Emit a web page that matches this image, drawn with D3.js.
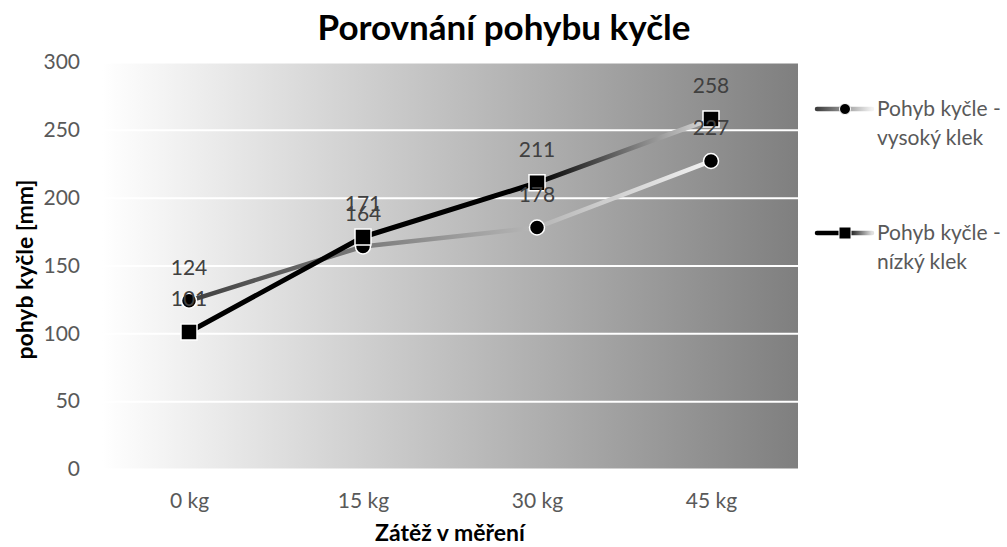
<!DOCTYPE html>
<html>
<head>
<meta charset="utf-8">
<script src="https://cdn.jsdelivr.net/npm/d3@7"></script>
<style>
  body { margin: 0; background: #fff; }
  svg { display: block; font-family: Lato, "Open Sans", sans-serif; }
</style>
</head>
<body>
<div id="chart"></div>
<script>
// ---- Data ----
const categories = ["0 kg", "15 kg", "30 kg", "45 kg"];
const seriesNames = ["Pohyb kyčle - vysoký klek", "Pohyb kyčle - nízký klek"];
const highKneel = [124, 164, 178, 227];
const lowKneel = [101, 171, 211, 258];
const yTicks = [0, 50, 100, 150, 200, 250, 300];

const width = 1007, height = 547;
const plot = { left: 102, right: 798, top: 62, bottom: 469 };

const svg = d3.select("#chart").append("svg")
    .attr("width", width)
    .attr("height", height);

const defs = svg.append("defs");

const xScale = d3.scalePoint()
    .domain(categories)
    .range([plot.left, plot.right])
    .padding(0.5);

const yScale = d3.scaleLinear()
    .domain([0, 300])
    .range([plot.bottom, plot.top]);

// ---- Gradients ----
function addGradient(id, x1, x2, stops) {
    const g = defs.append("linearGradient")
        .attr("id", id)
        .attr("gradientUnits", "userSpaceOnUse")
        .attr("x1", x1).attr("x2", x2)
        .attr("y1", 0).attr("y2", 0);
    g.selectAll("stop")
        .data(stops)
        .join("stop")
        .attr("offset", d => d[0])
        .attr("stop-color", d => d[1]);
}

const highStops = [[0, "#3f3f3f"], [1, "#f2f2f2"]];
const lowStops = [[0, "#000"], [0.67, "#000"], [1, "#dedede"]];

addGradient("bg", plot.left, plot.right, [[0, "#ffffff"], [1, "#7f7f7f"]]);
addGradient("lineHigh", xScale(categories[0]), xScale(categories[3]), highStops);
addGradient("lineLow", xScale(categories[0]), xScale(categories[3]), lowStops);
addGradient("legHigh", 817, 872, highStops);
addGradient("legLow", 817, 872, [[0, "#000"], [0.55, "#000"], [1, "#e0e0e0"]]);

// ---- Plot background ----
svg.append("rect")
    .attr("x", plot.left)
    .attr("y", plot.top)
    .attr("width", plot.right - plot.left)
    .attr("height", plot.bottom - plot.top)
    .attr("fill", "url(#bg)");

// ---- Gridlines ----
const grid = svg.append("g")
    .attr("transform", `translate(${plot.left},0)`)
    .call(d3.axisLeft(yScale).tickValues(yTicks).tickSize(-(plot.right - plot.left)).tickFormat(""));
grid.select(".domain").remove();
grid.selectAll("line").attr("stroke", "#fff").attr("stroke-width", 2);

// ---- Y axis ----
const yAxis = svg.append("g")
    .attr("transform", `translate(${plot.left},0)`)
    .call(d3.axisLeft(yScale).tickValues(yTicks).tickSize(0).tickPadding(22));
yAxis.select(".domain").remove();
yAxis.selectAll("text")
    .attr("font-family", "Lato, 'Open Sans', sans-serif")
    .attr("font-size", 21)
    .attr("fill", "#595959");

// ---- X axis ----
const xAxis = svg.append("g")
    .attr("transform", `translate(0,${plot.bottom})`)
    .call(d3.axisBottom(xScale).tickSize(0).tickPadding(24));
xAxis.select(".domain").remove();
xAxis.selectAll("text")
    .attr("font-family", "Lato, 'Open Sans', sans-serif")
    .attr("font-size", 21)
    .attr("fill", "#595959");

// ---- Series ----
const series = [
    { name: seriesNames[0], values: highKneel, stroke: "url(#lineHigh)", legend: "url(#legHigh)", shape: "circle", width: 4.5 },
    { name: seriesNames[1], values: lowKneel, stroke: "url(#lineLow)", legend: "url(#legLow)", shape: "square", width: 5 }
];

const line = d3.line()
    .x((d, i) => xScale(categories[i]))
    .y(d => yScale(d));

series.forEach(s => {
    const g = svg.append("g");
    g.append("path")
        .datum(s.values)
        .attr("d", line)
        .attr("fill", "none")
        .attr("stroke", s.stroke)
        .attr("stroke-width", s.width)
        .attr("stroke-linejoin", "round");

    if (s.shape === "circle") {
        g.selectAll("circle")
            .data(s.values)
            .join("circle")
            .attr("cx", (d, i) => xScale(categories[i]))
            .attr("cy", d => yScale(d))
            .attr("r", 7.5)
            .attr("fill", "#000")
            .attr("stroke", "#fff")
            .attr("stroke-width", 1.5);
    } else {
        g.selectAll("rect")
            .data(s.values)
            .join("rect")
            .attr("x", (d, i) => xScale(categories[i]) - 8)
            .attr("y", d => yScale(d) - 8)
            .attr("width", 16)
            .attr("height", 16)
            .attr("fill", "#000")
            .attr("stroke", "#fff")
            .attr("stroke-width", 1.5);
    }
});

// ---- Data labels ----
series.forEach(s => {
    svg.append("g").selectAll("text")
        .data(s.values)
        .join("text")
        .attr("x", (d, i) => xScale(categories[i]))
        .attr("y", d => yScale(d) - 26)
        .attr("text-anchor", "middle")
        .attr("font-size", 21)
        .attr("fill", "#404040")
        .text(d => d);
});

// ---- Title ----
svg.append("text")
    .attr("x", 504)
    .attr("y", 40)
    .attr("text-anchor", "middle")
    .attr("font-size", 35)
    .attr("font-weight", "bold")
    .attr("fill", "#000")
    .text("Porovnání pohybu kyčle");

// ---- Axis titles ----
svg.append("text")
    .attr("x", (plot.left + plot.right) / 2)
    .attr("y", 541)
    .attr("text-anchor", "middle")
    .attr("font-size", 23)
    .attr("font-weight", "bold")
    .attr("fill", "#000")
    .text("Zátěž v měření");

svg.append("text")
    .attr("transform", `translate(33,${(plot.top + plot.bottom) / 2 + 4}) rotate(-90)`)
    .attr("text-anchor", "middle")
    .attr("font-size", 23)
    .attr("font-weight", "bold")
    .attr("fill", "#000")
    .text("pohyb kyčle [mm]");

// ---- Legend ----
const legendY = [109, 233];
series.forEach((s, i) => {
    const g = svg.append("g").attr("transform", `translate(0,${legendY[i]})`);
    g.append("line")
        .attr("x1", 817).attr("x2", 872)
        .attr("y1", 0).attr("y2", 0.01)
        .attr("stroke", s.legend)
        .attr("stroke-width", 4.5)
        .attr("stroke-linecap", "round");
    if (s.shape === "circle") {
        g.append("circle")
            .attr("cx", 845).attr("cy", 0).attr("r", 5.5)
            .attr("fill", "#000").attr("stroke", "#fff").attr("stroke-width", 1);
    } else {
        g.append("rect")
            .attr("x", 839).attr("y", -6).attr("width", 12).attr("height", 12)
            .attr("fill", "#000").attr("stroke", "#fff").attr("stroke-width", 1);
    }
    const parts = s.name.split(" - ");
    const t = g.append("text")
        .attr("font-size", 21)
        .attr("fill", "#595959");
    t.append("tspan").attr("x", 877).attr("y", 7).text(parts[0] + " -");
    t.append("tspan").attr("x", 877).attr("y", 36).text(parts[1]);
});
</script>
</body>
</html>
